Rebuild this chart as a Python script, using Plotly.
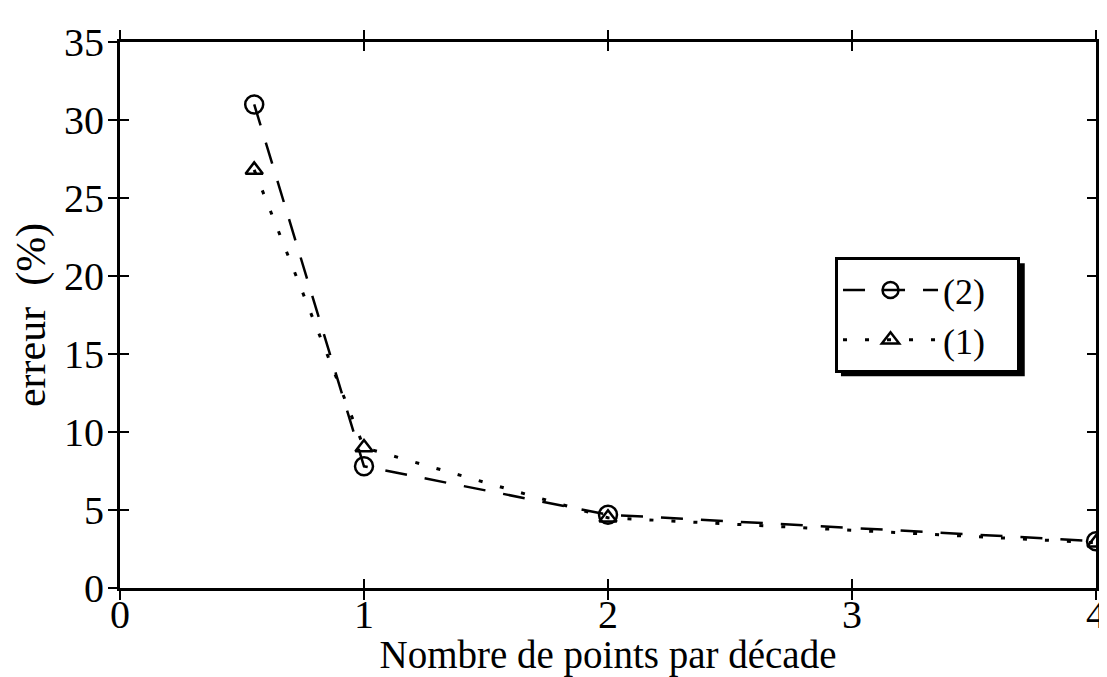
import plotly.graph_objects as go

x_vals = [0.55, 1, 2, 4]
err_2 = [31.0, 7.8, 4.7, 3.0]
err_1 = [26.8, 9.0, 4.5, 2.9]
x_ticks = [0, 1, 2, 3, 4]
y_ticks = [0, 5, 10, 15, 20, 25, 30, 35]
series_names = ["(2)", "(1)"]

FONT = "Liberation Serif"
PAD = "\u00a0\u00a0\u00a0"

fig = go.Figure()
fig.add_trace(go.Scatter(
    x=x_vals, y=err_2, name=series_names[0] + PAD, mode="lines+markers", cliponaxis=False,
    line=dict(color="black", width=2.5, dash="22px,18px"),
    marker=dict(symbol="circle-open", size=18, color="black", line=dict(width=2.5)),
))
fig.add_trace(go.Scatter(
    x=x_vals, y=err_1, name=series_names[1] + PAD, mode="lines+markers", cliponaxis=False,
    line=dict(color="black", width=3, dash="4px,18px"),
    marker=dict(symbol="triangle-up-open", size=15, color="black", line=dict(width=2.5)),
))
# invisible trace to enable overlay axes for inner ticks
fig.add_trace(go.Scatter(x=[0], y=[0], xaxis="x2", yaxis="y2", mode="markers",
                         marker=dict(opacity=0), showlegend=False, hoverinfo="skip"))

axis_common = dict(showgrid=False, zeroline=False, showline=True, linecolor="black",
                   linewidth=3, tickcolor="black", tickwidth=2, ticklen=9,
                   automargin=False)

fig.update_layout(
    width=1099, height=669,
    paper_bgcolor="white", plot_bgcolor="white",
    margin=dict(l=112, r=11, t=34, b=89),
    font=dict(family=FONT, size=40, color="black"),
    xaxis=dict(range=[0, 4], tickvals=x_ticks, ticks="outside", mirror="allticks",
               ticklabeloverflow="allow", ticklabelstandoff=-20,
               title=dict(text="Nombre de points par décade", font=dict(size=39), standoff=20),
               tickfont=dict(size=40), **axis_common),
    yaxis=dict(range=[0, 35], tickvals=y_ticks, ticks="outside", mirror="allticks",
               ticklabelstandoff=-4,
               title=dict(text="erreur  (%)", font=dict(size=42), standoff=8),
               tickfont=dict(size=40), **axis_common),
    xaxis2=dict(range=[0, 4], tickvals=x_ticks, ticks="inside", mirror="allticks",
                overlaying="x", showticklabels=False, **axis_common),
    yaxis2=dict(range=[0, 35], tickvals=y_ticks, ticks="inside", mirror="allticks",
                overlaying="y", showticklabels=False, **axis_common),
    legend=dict(x=0.7326, y=0.606, xanchor="left", yanchor="top",
                bgcolor="white", bordercolor="black", borderwidth=3,
                font=dict(family=FONT, size=36), itemwidth=95,
                tracegroupgap=0),
    shapes=[dict(type="rect", xref="paper", yref="paper", layer="below",
                 x0=0.7387, x1=0.927, y0=0.388, y1=0.595,
                 fillcolor="black", line=dict(width=0))],
    showlegend=True,
)

fig.write_html("out.html")
